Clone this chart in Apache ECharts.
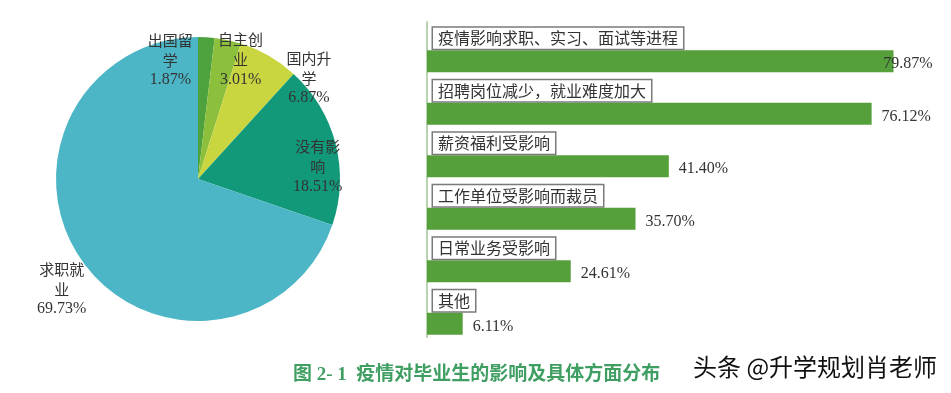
<!DOCTYPE html>
<html>
<head>
<meta charset="utf-8">
<script src="https://cdn.jsdelivr.net/npm/echarts@6/dist/echarts.min.js"></script>
<style>
html,body{margin:0;padding:0;background:#fff;}
#main{width:951px;height:393px;}
</style>
</head>
<body>
<div id="main"></div>
<script>
'use strict'
// 饼图：毕业去向
const pieNames = ['出国留学', '自主创业', '国内升学', '没有影响', '求职就业'];
const pieValues = [1.87, 3.01, 6.87, 18.51, 69.73];
const pieLabelLines = [['出国留', '学'], ['自主创', '业'], ['国内升', '学'], ['没有影', '响'], ['求职就', '业']];
// 条形图：疫情影响方面
const barNames = ['疫情影响求职、实习、面试等进程', '招聘岗位减少，就业难度加大', '薪资福利受影响', '工作单位受影响而裁员', '日常业务受影响', '其他'];
const barValues = [79.87, 76.12, 41.40, 35.70, 24.61, 6.11];

const pieColors = ['#4ea23e', '#8cc03c', '#c9d640', '#12997a', '#4db6c6'];
const pieOffsets = [[-32, -45], [27, -47], [74, -37], [48, 6], [-76, 67]];

let chart = echarts.init(document.getElementById('main'));
let pieData = pieNames.map((n, i) => ({
	name: n,
	value: pieValues[i],
	itemStyle: { color: pieColors[i] },
	label: { offset: pieOffsets[i] }
}));
let barData = barValues.map((v, i) => i === 0 ?
	{ value: v, label: { position: 'insideRight', distance: -39, offset: [0, 3] } } :
	{ value: v });

let option = {
	animation: false,
	grid: { left: 427, right: 10, top: 22, bottom: 56 },
	xAxis: { type: 'value', min: 0, max: 88, show: false },
	yAxis: {
		type: 'category',
		data: barNames,
		inverse: true,
		axisLine: { show: true, lineStyle: { color: '#b9d2b0', width: 2 } },
		axisTick: { show: false },
		axisLabel: { show: false }
	},
	series: [{
		type: 'pie',
		center: [198, 179],
		radius: 142,
		silent: true,
		data: pieData,
		label: {
			position: 'inside',
			formatter (p) {
				let l = pieLabelLines[p.dataIndex];
				return `{c|${l[0]}}\n{c|${l[1]}}\n{n|${p.value.toFixed(2)}%}`;
			},
			rich: {
				c: { fontFamily: 'Noto Sans CJK SC', fontSize: 15, color: '#333', lineHeight: 20 },
				n: { fontFamily: 'Liberation Serif', fontSize: 16, color: '#333', lineHeight: 20 }
			}
		},
		labelLine: { show: false }
	}, {
		// 占位柱，用于放置类别名称框
		type: 'bar',
		data: barValues,
		barWidth: 26,
		barGap: '0%',
		silent: true,
		itemStyle: { color: 'rgba(0,0,0,0)' },
		label: {
			show: true,
			position: 'insideLeft',
			distance: 6,
			offset: [0, 1],
			formatter: (p) => barNames[p.dataIndex],
			fontFamily: 'Noto Sans CJK SC',
			fontSize: 16,
			color: '#333',
			backgroundColor: '#fff',
			borderColor: '#7a7a7a',
			borderWidth: 1.5,
			padding: [3, 5, 2, 5]
		}
	}, {
		type: 'bar',
		data: barData,
		barWidth: 22,
		silent: true,
		itemStyle: { color: '#55a03a' },
		label: {
			show: true,
			position: 'right',
			distance: 10,
			offset: [0, 3],
			formatter: (p) => p.value.toFixed(2) + '%',
			fontFamily: 'Liberation Serif',
			fontSize: 16,
			color: '#333'
		}
	}],
	graphic: [{
		type: 'text',
		left: 293,
		top: 366,
		style: {
			text: '图 2- 1  疫情对毕业生的影响及具体方面分布',
			font: 'bold 19px "Liberation Serif", "Noto Sans CJK SC"',
			fill: '#3f9f62'
		}
	}, {
		type: 'text',
		left: 693,
		top: 355,
		style: {
			text: '头条 @升学规划肖老师',
			font: '24px "Noto Sans CJK SC"',
			fill: '#111'
		}
	}]
};
chart.setOption(option);
</script>
</body>
</html>
